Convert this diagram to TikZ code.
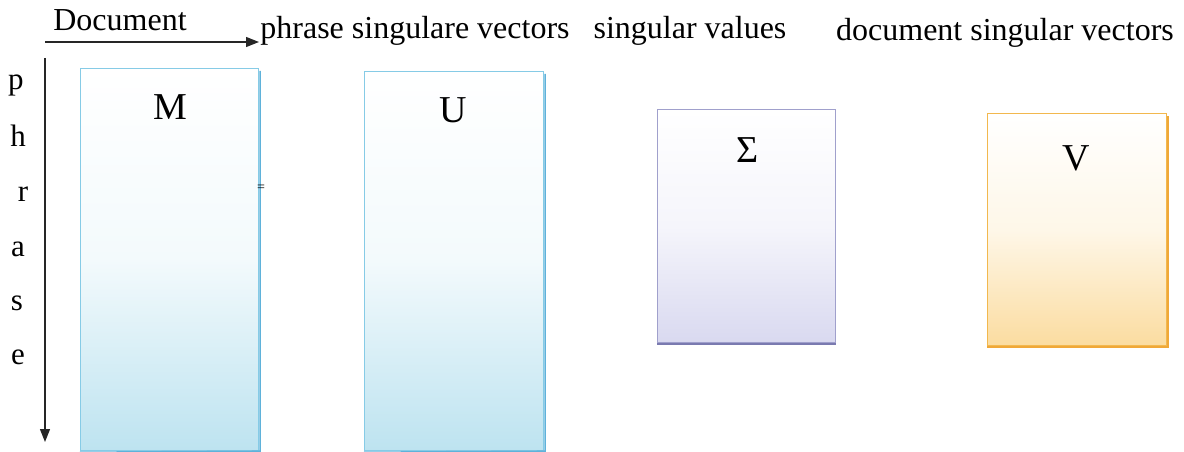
\documentclass[tikz,border=0pt]{standalone}
\usepackage{fontspec}
\setmainfont{Liberation Serif}
\usetikzlibrary{arrows.meta}
\definecolor{bbord}{HTML}{86CBE6}
\definecolor{bbot}{HTML}{BDE3F0}
\definecolor{bmid}{HTML}{F3FAFC}
\definecolor{bshad}{HTML}{5FB2DA}
\definecolor{pbord}{HTML}{A0A0CC}
\definecolor{pbot}{HTML}{D9D9F0}
\definecolor{pmid}{HTML}{F5F5FB}
\definecolor{pshad}{HTML}{7A7AB0}
\definecolor{obord}{HTML}{F2B84E}
\definecolor{obot}{HTML}{FBDCA0}
\definecolor{omid}{HTML}{FEF7E8}
\definecolor{oshad}{HTML}{F0A838}
\begin{document}
\begin{tikzpicture}[x=1pt,y=-1pt,
  lbl/.style={font=\fontsize{32}{34}\selectfont, inner sep=0pt, anchor=base},
  vlet/.style={font=\fontsize{31}{33}\selectfont, inner sep=0pt, anchor=base},
  mlbl/.style={font=\fontsize{38}{40}\selectfont, inner sep=0pt, anchor=base},
  bluebox/.style={draw=bbord, line width=1.2pt, top color=white, bottom color=bbot, middle color=bmid},
  purplebox/.style={draw=pbord, line width=1.2pt, top color=white, bottom color=pbot, middle color=pmid},
  orangebox/.style={draw=obord, line width=1.2pt, top color=white, bottom color=obot, middle color=omid},
  arr/.style={line width=1.4pt, draw=black!85, -{Triangle[length=13pt,width=10pt]}}
]
\useasboundingbox (0,0) rectangle (1184,452);
% boxes
\node[bluebox, minimum width=178pt, minimum height=382pt, inner sep=0pt, anchor=north west] (M) at (80,68) {};
\node[bluebox, minimum width=179pt, minimum height=379pt, inner sep=0pt, anchor=north west] (U) at (364,71) {};
\node[purplebox, minimum width=178pt, minimum height=233pt, inner sep=0pt, anchor=north west] (S) at (657,109) {};
\node[orangebox, minimum width=179pt, minimum height=232pt, inner sep=0pt, anchor=north west] (V) at (987,113) {};
% shadow edges
\draw[bshad, line width=1.5pt] ([xshift=1pt,yshift=-3pt]M.north east) -- ([xshift=1pt]M.south east) -- ([yshift=-1pt]M.south west);
\draw[bshad, line width=1.5pt] ([xshift=1pt,yshift=-3pt]U.north east) -- ([xshift=1pt]U.south east) -- ([yshift=-1pt]U.south west);
\draw[pshad, line width=2pt] ([yshift=-1pt]S.south west) -- ([yshift=-1pt]S.south east);
\draw[oshad, line width=2pt] ([yshift=-1pt]V.south west) -- ([xshift=1pt,yshift=-1pt]V.south east) -- ([xshift=1pt,yshift=-3pt]V.north east);
% box labels
\node[mlbl] (lM) at (170,120) {M};
\node[mlbl] (lU) at (453,122) {U};
\node[mlbl] (lS) at (748,162) {Σ};
\node[mlbl] (lV) at (1076,170) {V};
\node[font=\fontsize{14}{14}\selectfont, inner sep=0pt] (eq) at (261,188) {=};
% arrows
\coordinate (hs) at (45,42);
\coordinate (he) at (259,42);
\coordinate (vs) at (45,58);
\coordinate (ve) at (45,442);
\draw[arr] (hs) -- (he);
\draw[arr] (vs) -- (ve);
% headers
\node[lbl] (hDoc) at (120,31) {Document};
\node[lbl] (hU) at (415,39) {phrase singulare vectors};
\node[lbl] (hS) at (690,39) {singular values};
\node[lbl] (hV) at (1005,41) {document singular vectors};
% vertical letters
\node[vlet] (p1) at (16,89) {p};
\node[vlet] (p2) at (18,146) {h};
\node[vlet] (p3) at (23,201) {r};
\node[vlet] (p4) at (18,256) {a};
\node[vlet] (p5) at (17,310) {s};
\node[vlet] (p6) at (18,364) {e};
\end{tikzpicture}
\end{document}
